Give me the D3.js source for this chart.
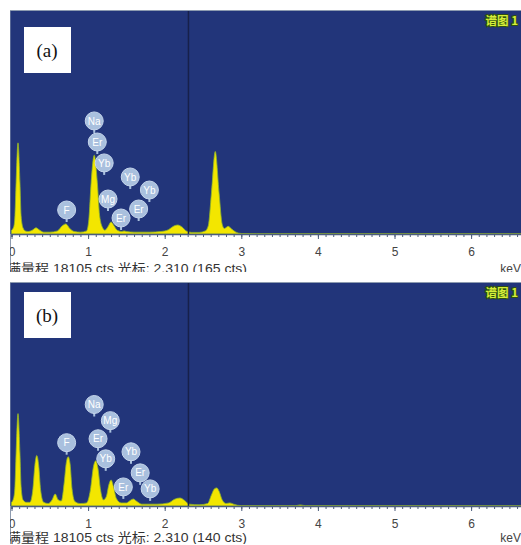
<!DOCTYPE html>
<html>
<head>
    <meta charset="utf-8">
    <title>EDS spectra (a) and (b)</title>
    <script src="https://cdnjs.cloudflare.com/ajax/libs/d3/7.8.5/d3.min.js"></script>
    <style>
        body { margin: 0; background: #ffffff; }
        svg { display: block; }
        .tick text { font-family: "Liberation Sans", Arial, sans-serif; }
    </style>
</head>
<body>
    <div id="chart"></div>

    <script>
        // energy axis (keV) and counts
        const majorTicks = [0, 1, 2, 3, 4, 5, 6];
        const minorTicks = d3.range(0, 70).map(i => i / 10);
        const fullScale = 18105;
        const cursorKeV = 2.310;

        // spectrum (a): [keV, counts]
        const spectrumA = [
            [0.00, 300], [0.03, 600], [0.045, 1500], [0.06, 4200], [0.085, 7400], [0.11, 4200],
            [0.125, 1500], [0.15, 500], [0.18, 250], [0.22, 200], [0.27, 300], [0.32, 500],
            [0.37, 300], [0.42, 150], [0.50, 150], [0.60, 250], [0.66, 650], [0.71, 820],
            [0.76, 450], [0.82, 200], [0.90, 150], [0.98, 250], [1.01, 1200], [1.04, 4200],
            [1.08, 6400], [1.12, 4200], [1.15, 1500], [1.19, 500], [1.22, 300], [1.26, 600],
            [1.30, 980], [1.34, 650], [1.38, 300], [1.44, 200], [1.47, 250], [1.50, 200],
            [1.60, 150], [1.80, 150], [1.95, 200], [2.05, 350], [2.12, 650], [2.17, 730],
            [2.23, 550], [2.28, 250], [2.35, 130], [2.45, 130], [2.53, 250], [2.57, 700],
            [2.61, 3300], [2.66, 6700], [2.71, 3300], [2.75, 800], [2.78, 450], [2.83, 620],
            [2.87, 420], [2.93, 150], [3.00, 40], [3.20, 20], [7.00, 10]
        ];

        // spectrum (b)
        const spectrumB = [
            [0.00, 300], [0.03, 700], [0.045, 1600], [0.06, 4300], [0.085, 7500], [0.11, 4300],
            [0.125, 1600], [0.15, 500], [0.19, 300], [0.24, 300], [0.28, 1400], [0.305, 3300],
            [0.33, 4100], [0.355, 3300], [0.38, 1300], [0.42, 300], [0.48, 200], [0.53, 500],
            [0.57, 980], [0.61, 500], [0.65, 400], [0.69, 2000], [0.715, 3500], [0.74, 4000],
            [0.765, 3400], [0.79, 1400], [0.83, 350], [0.90, 200], [0.98, 250], [1.03, 1300],
            [1.07, 3200], [1.10, 3670], [1.13, 3000], [1.16, 1400], [1.20, 500], [1.24, 800],
            [1.27, 1700], [1.30, 2120], [1.33, 1600], [1.37, 600], [1.43, 250], [1.50, 250],
            [1.55, 450], [1.59, 570], [1.63, 400], [1.70, 150], [1.90, 150], [2.05, 250],
            [2.13, 550], [2.20, 650], [2.26, 450], [2.32, 150], [2.45, 100], [2.56, 200],
            [2.61, 900], [2.65, 1400], [2.68, 1470], [2.71, 1200], [2.75, 500], [2.80, 200],
            [2.85, 250], [2.90, 150], [2.95, 60], [3.00, 30], [3.70, 20], [3.77, 90],
            [3.84, 20], [7.00, 10]
        ];

        // element markers: name, keV, counts level of the marker
        const labelsA = [
            ["Na", 1.08, 9180], ["Er", 1.12, 7470], ["Yb", 1.21, 5770], ["Yb", 1.55, 4630],
            ["Yb", 1.80, 3570], ["Mg", 1.26, 2840], ["Er", 1.66, 2030], ["Er", 1.43, 1300],
            ["F", 0.72, 1950]
        ];
        const labelsB = [
            ["Na", 1.08, 8240], ["Mg", 1.29, 6930], ["F", 0.72, 5140], ["Er", 1.13, 5460],
            ["Yb", 1.23, 3830], ["Yb", 1.56, 4400], ["Er", 1.68, 2690], ["Er", 1.46, 1550],
            ["Yb", 1.81, 1390]
        ];

        const panels = [
            { tag: "(a)", cursorCts: 165, spectrum: spectrumA, labels: labelsA },
            { tag: "(b)", cursorCts: 140, spectrum: spectrumB, labels: labelsB }
        ];

        const W = 521, H = 545;
        const svg = d3.select("#chart").append("svg")
            .attr("width", W)
            .attr("height", H);

        const defs = svg.append("defs");
        defs.append("clipPath").attr("id", "clip")
            .append("rect")
            .attr("x", 10).attr("y", 0)
            .attr("width", W - 10).attr("height", 272);

        const x = d3.scaleLinear().domain([0, 7]).range([11.5, 11.5 + 7 * 76.6]);
        const y = d3.scaleLinear().domain([0, fullScale]).range([234, 11]);

        const boxTop = [27, 292];
        const footY = [273, 270];

        panels.forEach((p, i) => {
            const g = svg.append("g")
                .attr("transform", `translate(0,${i * 272})`);
            const inner = g.append("g").attr("clip-path", "url(#clip)");

            // white frame + blue plot area
            inner.append("rect")
                .attr("x", 10.5).attr("y", 10.5)
                .attr("width", W).attr("height", 266)
                .attr("fill", "#ffffff")
                .attr("stroke", "#8d9bb0");
            inner.append("rect")
                .attr("x", 10.5).attr("y", y(fullScale))
                .attr("width", W).attr("height", y(0) - y(fullScale))
                .attr("fill", "#22357a");

            // spectrum
            const area = d3.area()
                .x(d => x(d[0]))
                .y0(y(0))
                .y1(d => y(d[1]))
                .curve(d3.curveMonotoneX);
            inner.append("path")
                .datum(p.spectrum)
                .attr("d", area)
                .attr("fill", "#f3e600")
                .attr("stroke", "#8fb52a")
                .attr("stroke-width", 0.8);

            // cursor
            inner.append("line")
                .attr("x1", x(cursorKeV)).attr("x2", x(cursorKeV))
                .attr("y1", y(fullScale)).attr("y2", y(0))
                .attr("stroke", "#17204a")
                .attr("stroke-width", 1.5);

            // axes
            inner.append("g")
                .attr("transform", `translate(0,${y(0)})`)
                .call(d3.axisBottom(x).tickValues(minorTicks).tickSize(3).tickFormat(""))
                .call(a => a.selectAll("line").attr("stroke", "#4c5d7c"))
                .call(a => a.select(".domain").attr("stroke", "#4c5d7c").attr("stroke-width", 1.5));
            inner.append("g")
                .attr("transform", `translate(0,${y(0)})`)
                .call(d3.axisBottom(x).tickValues(majorTicks).tickSize(5).tickPadding(8).tickFormat(d3.format("d")))
                .call(a => a.select(".domain").remove())
                .call(a => a.selectAll("line").attr("stroke", "#4c5d7c"))
                .call(a => a.selectAll("text").attr("fill", "#444").attr("font-size", 12));

            inner.append("text")
                .attr("x", 521).attr("y", footY[i])
                .attr("text-anchor", "end")
                .attr("font-family", "Liberation Sans, Arial, sans-serif")
                .attr("font-size", 12)
                .attr("fill", "#444")
                .text("keV");

            inner.append("text")
                .attr("x", 7).attr("y", footY[i])
                .attr("font-family", "Liberation Sans, 'Noto Sans CJK SC', sans-serif")
                .attr("font-size", 13)
                .attr("fill", "#333")
                .attr("textLength", 240)
                .attr("lengthAdjust", "spacingAndGlyphs")
                .text(`满量程 ${fullScale} cts 光标: ${cursorKeV.toFixed(3)} (${p.cursorCts} cts)`);

            // spectrum title
            inner.append("text")
                .attr("x", 518).attr("y", 25)
                .attr("text-anchor", "end")
                .attr("font-family", "'Noto Sans CJK SC', sans-serif")
                .attr("font-weight", "bold")
                .attr("font-size", 11.5)
                .attr("fill", "#d6ee3a")
                .attr("stroke", "#2f5010")
                .attr("stroke-width", 2)
                .attr("paint-order", "stroke")
                .text("谱图 1");

            // element markers
            const mk = inner.selectAll("g.marker")
                .data(p.labels)
                .enter().append("g")
                .attr("class", "marker")
                .attr("transform", d => `translate(${x(d[1])},${y(d[2])})`);
            mk.append("line")
                .attr("x1", 0).attr("x2", 0)
                .attr("y1", 7).attr("y2", 12)
                .attr("stroke", "#a9c0de")
                .attr("stroke-width", 2);
            mk.append("circle")
                .attr("r", 9)
                .attr("fill", "#a9c0de")
                .attr("stroke", "#c6d6ec")
                .attr("stroke-width", 1);
            mk.append("text")
                .attr("y", 3.6)
                .attr("text-anchor", "middle")
                .attr("font-family", "Liberation Sans, Arial, sans-serif")
                .attr("font-size", 10)
                .attr("fill", "#ffffff")
                .text(d => d[0]);

            // panel tag
            svg.append("rect")
                .attr("x", 24).attr("y", boxTop[i])
                .attr("width", 47).attr("height", 46)
                .attr("fill", "#ffffff");
            svg.append("text")
                .attr("x", 47).attr("y", boxTop[i] + 30)
                .attr("text-anchor", "middle")
                .attr("font-family", "Liberation Serif, 'Times New Roman', serif")
                .attr("font-size", 19)
                .attr("fill", "#111")
                .text(p.tag);
        });
    </script>
</body>
</html>
